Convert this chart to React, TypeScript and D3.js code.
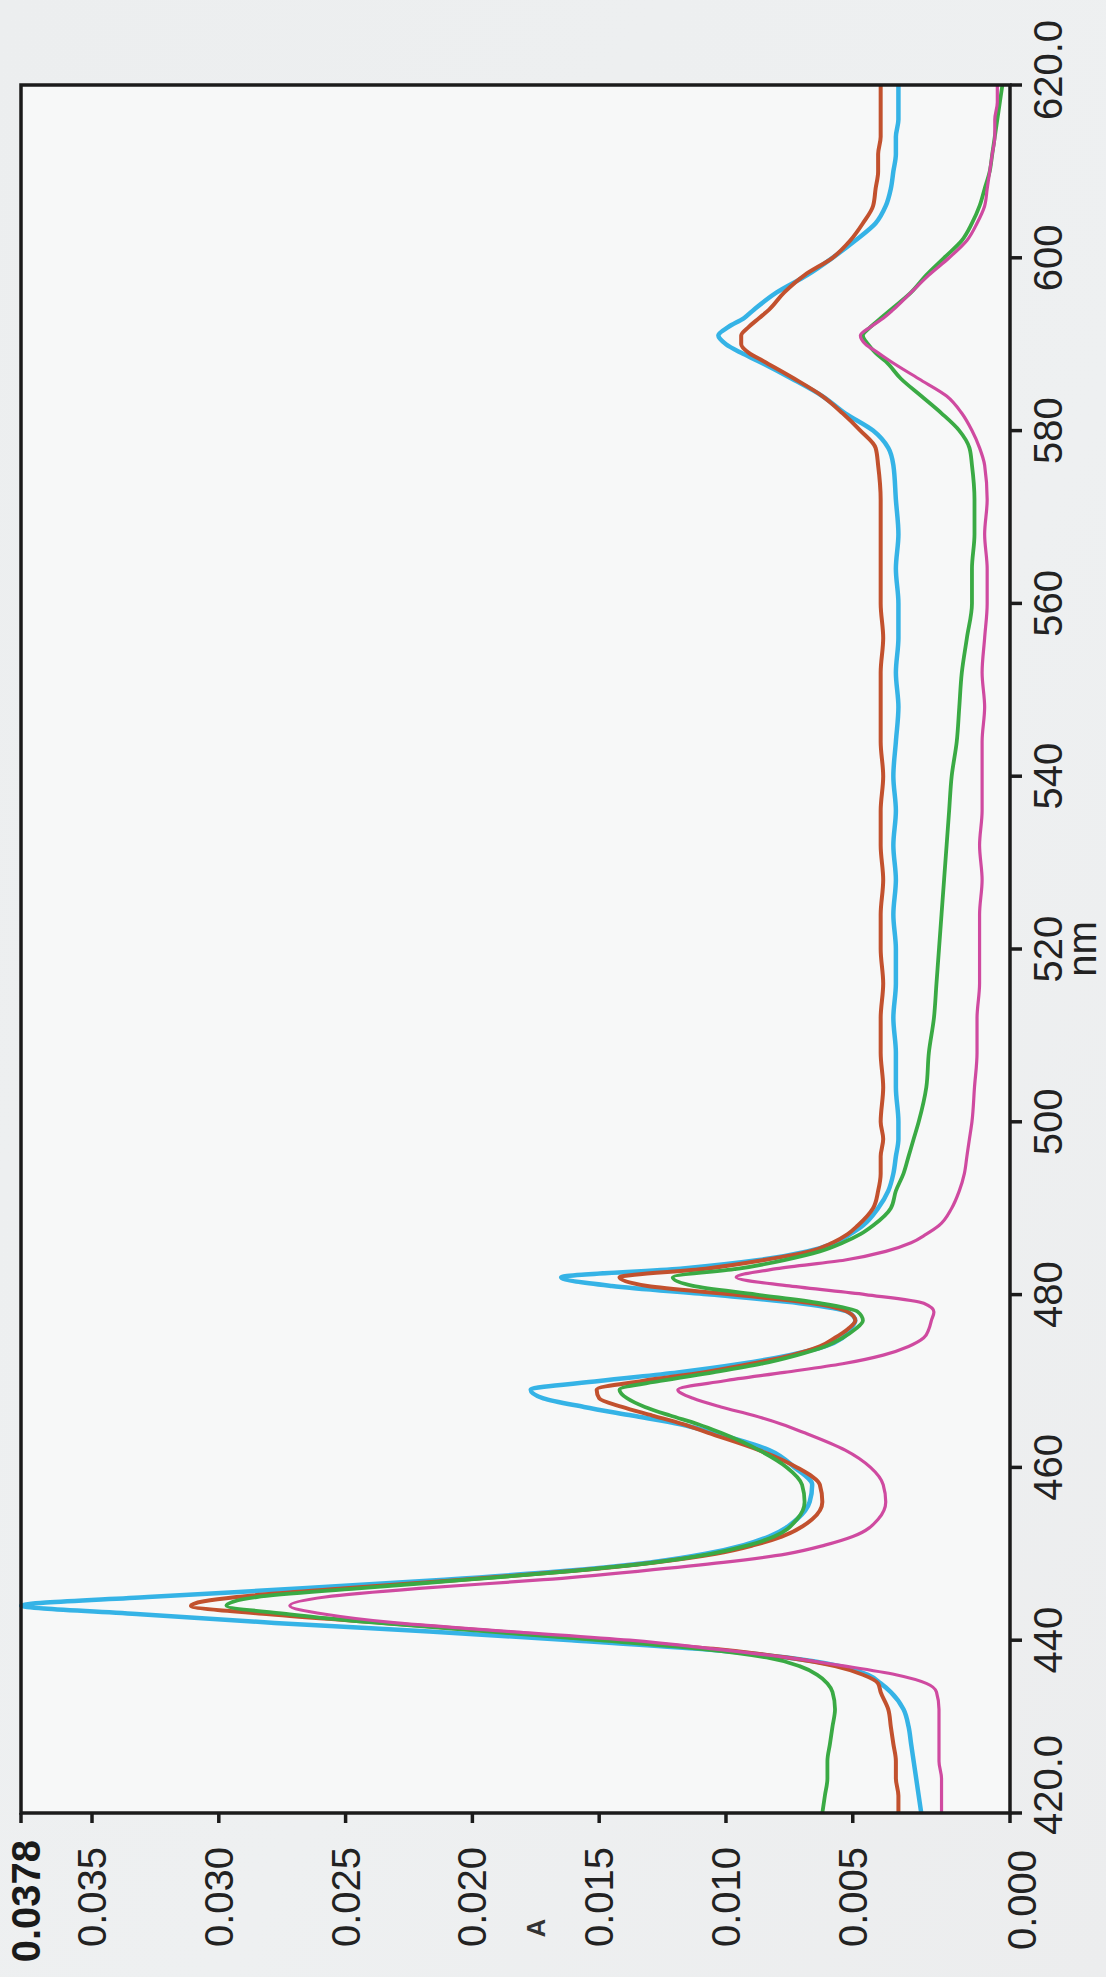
import React from 'react';
import * as d3 from 'd3';

// Wavelength grid (nm) shared by all four spectra
const WAVELENGTHS = [
  420, 422, 424, 426, 428, 430, 432, 434,
  435, 436, 437, 438, 439, 440, 441, 442, 443, 444, 445, 446, 447, 448, 449, 450, 451, 452,
  454, 456, 458, 460, 462, 464,
  465, 466, 467, 468, 469, 470, 471, 472, 473, 474, 475, 476, 477, 478, 479, 480, 481, 482, 483, 484, 485, 486, 487, 488,
  490, 492, 494, 496, 498, 500,
  504, 508, 512, 516, 520, 524, 528, 532, 536, 540, 544, 548, 552, 556, 560, 564, 568, 572, 576,
  578, 580, 582, 584, 586, 588,
  589, 590, 591, 592, 593, 594,
  596, 598, 600, 602, 604, 606, 608, 610, 612, 614, 616, 618, 620,
];

// Absorbance values (A), one per wavelength
const BLUE = [
  0.0023, 0.0024, 0.0025, 0.0026, 0.0027, 0.0028, 0.0030, 0.0035,
  0.0039, 0.0044, 0.0055, 0.0076, 0.0111, 0.0161, 0.0217, 0.0278, 0.0331, 0.0378, 0.0328, 0.0267, 0.0211, 0.0164, 0.0130, 0.0108, 0.0093, 0.0083,
  0.0072, 0.0067, 0.0066, 0.0073, 0.0083, 0.0105,
  0.0118, 0.0137, 0.0156, 0.0172, 0.0177, 0.0150, 0.0119, 0.0094, 0.0075, 0.0061, 0.0054, 0.0051, 0.0049, 0.0052, 0.0071, 0.0106, 0.0145, 0.0165, 0.0118, 0.0087, 0.0068, 0.0057, 0.0051, 0.0046,
  0.0040, 0.0036, 0.0034, 0.0033, 0.0032, 0.0032,
  0.0033, 0.0033, 0.0034, 0.0033, 0.0033, 0.0034, 0.0033, 0.0034, 0.0033, 0.0034, 0.0033, 0.0032, 0.0033, 0.0032, 0.0032, 0.0033, 0.0032, 0.0033, 0.0034,
  0.0036, 0.0042, 0.0053, 0.0062, 0.0074, 0.0087,
  0.0094, 0.0100, 0.0103, 0.0099, 0.0093, 0.0089,
  0.0080, 0.0068, 0.0058, 0.0049, 0.0041, 0.0037, 0.0035, 0.0034, 0.0033, 0.0033, 0.0032, 0.0032, 0.0032,
];

const BROWN = [
  0.0032, 0.0032, 0.0033, 0.0033, 0.0034, 0.0035, 0.0036, 0.0039,
  0.0040, 0.0046, 0.0057, 0.0076, 0.0105, 0.0146, 0.0190, 0.0235, 0.0280, 0.0311, 0.0293, 0.0250, 0.0204, 0.0161, 0.0128, 0.0104, 0.0089, 0.0078,
  0.0066, 0.0062, 0.0063, 0.0072, 0.0087, 0.0107,
  0.0117, 0.0129, 0.0141, 0.0150, 0.0151, 0.0133, 0.0109, 0.0090, 0.0074, 0.0063, 0.0057, 0.0052, 0.0049, 0.0052, 0.0066, 0.0097, 0.0131, 0.0142, 0.0108, 0.0085, 0.0067, 0.0058, 0.0052, 0.0048,
  0.0042, 0.0040, 0.0039, 0.0039, 0.0038, 0.0039,
  0.0038, 0.0039, 0.0039, 0.0038, 0.0039, 0.0039, 0.0038, 0.0039, 0.0039, 0.0038, 0.0039, 0.0039, 0.0039, 0.0038, 0.0039, 0.0039, 0.0039, 0.0039, 0.0040,
  0.0041, 0.0047, 0.0054, 0.0062, 0.0073, 0.0085,
  0.0091, 0.0094, 0.0094, 0.0091, 0.0087, 0.0083,
  0.0077, 0.0069, 0.0058, 0.0051, 0.0046, 0.0042, 0.0041, 0.0040, 0.0040, 0.0039, 0.0039, 0.0039, 0.0039,
];

const GREEN = [
  0.0062, 0.0061, 0.0060, 0.0060, 0.0059, 0.0058, 0.0057, 0.0058,
  0.0060, 0.0064, 0.0071, 0.0084, 0.0110, 0.0150, 0.0193, 0.0237, 0.0272, 0.0297, 0.0285, 0.0245, 0.0202, 0.0161, 0.0128, 0.0106, 0.0091, 0.0081,
  0.0072, 0.0069, 0.0070, 0.0076, 0.0087, 0.0102,
  0.0111, 0.0122, 0.0132, 0.0139, 0.0142, 0.0126, 0.0105, 0.0086, 0.0072, 0.0061, 0.0054, 0.0049, 0.0046, 0.0048, 0.0063, 0.0088, 0.0113, 0.0121, 0.0095, 0.0077, 0.0063, 0.0054, 0.0047, 0.0042,
  0.0035, 0.0033, 0.0030, 0.0028, 0.0026, 0.0024,
  0.0021, 0.0020, 0.0018, 0.0017, 0.0016, 0.0015, 0.0014, 0.0013, 0.0012, 0.0011, 0.0009, 0.0008, 0.0007, 0.0005, 0.0003, 0.0003, 0.0002, 0.0002, 0.0003,
  0.0004, 0.0008, 0.0015, 0.0023, 0.0031, 0.0037,
  0.0041, 0.0044, 0.0046, 0.0043, 0.0039, 0.0035,
  0.0027, 0.0021, 0.0014, 0.0007, 0.0003, 0.0000, -0.0002, -0.0004, -0.0005, -0.0006, -0.0007, -0.0008, -0.0009,
];

const PINK = [
  0.0015, 0.0015, 0.0015, 0.0016, 0.0016, 0.0016, 0.0016, 0.0017,
  0.0021, 0.0033, 0.0053, 0.0076, 0.0105, 0.0138, 0.0185, 0.0230, 0.0258, 0.0272, 0.0258, 0.0221, 0.0172, 0.0134, 0.0101, 0.0076, 0.0061, 0.0050,
  0.0040, 0.0037, 0.0038, 0.0043, 0.0053, 0.0069,
  0.0078, 0.0089, 0.0102, 0.0113, 0.0119, 0.0101, 0.0077, 0.0054, 0.0038, 0.0028, 0.0022, 0.0020, 0.0019, 0.0018, 0.0022, 0.0045, 0.0075, 0.0096, 0.0080, 0.0053, 0.0037, 0.0027, 0.0021, 0.0016,
  0.0011, 0.0008, 0.0006, 0.0005, 0.0004, 0.0003,
  0.0002, 0.0001, 0.0001, 0.0000, 0.0000, 0.0000, -0.0001, 0.0000, -0.0001, -0.0001, -0.0001, -0.0002, -0.0001, -0.0002, -0.0003, -0.0003, -0.0002, -0.0003, -0.0002,
  0.0000, 0.0003, 0.0007, 0.0013, 0.0024, 0.0035,
  0.0040, 0.0045, 0.0047, 0.0043, 0.0038, 0.0034,
  0.0027, 0.0020, 0.0012, 0.0005, 0.0001, -0.0002, -0.0003, -0.0004, -0.0005, -0.0006, -0.0006, -0.0007, -0.0007,
];

const SERIES = [
  { name: 'blue', values: BLUE, color: '#35b3e6', width: 4.5 },
  { name: 'brown', values: BROWN, color: '#c2512e', width: 4 },
  { name: 'green', values: GREEN, color: '#3aaa44', width: 3.8 },
  { name: 'pink', values: PINK, color: '#cf4aa0', width: 3.2 },
];

// Axis extents and tick labels
const NM_DOMAIN = [420, 620];
const A_DOMAIN = [-0.0012, 0.0378];
const A_TICKS = [0.005, 0.01, 0.015, 0.02, 0.025, 0.03, 0.035];
const NM_TICKS = [440, 460, 480, 500, 520, 540, 560, 580, 600];
const A_MAX_LABEL = '0.0378';
const A_MIN_LABEL = '0.000';
const NM_MIN_LABEL = '420.0';
const NM_MAX_LABEL = '620.0';
const X_TITLE = 'nm';
const Y_TITLE = 'A';

const PAGE_W = 1106;
const PAGE_H = 1977;
const FONT = '"Liberation Sans", Arial, Helvetica, sans-serif';

export default function App() {
  // The chart is built in an upright frame (PAGE_H wide, PAGE_W tall)
  // and then turned a quarter-turn counter-clockwise onto the page.
  const left = 164;
  const right = 1892;
  const top = 21;
  const bottom = 1010;

  const x = d3.scaleLinear().domain(NM_DOMAIN).range([left, right]);
  const y = d3.scaleLinear().domain(A_DOMAIN).range([bottom, top]);

  const line = d3
    .line<number>()
    .x((_, i) => x(WAVELENGTHS[i]))
    .y((d) => y(d))
    .curve(d3.curveMonotoneX);

  const axisColor = '#1b1b1b';
  const tickLen = 10;
  const labelSize = 40;

  const aTickAll = [A_DOMAIN[1], ...A_TICKS, A_DOMAIN[0]];
  const nmTickAll = [NM_DOMAIN[0], ...NM_TICKS, NM_DOMAIN[1]];

  return (
    <svg
      width={PAGE_W}
      height={PAGE_H}
      viewBox={`0 0 ${PAGE_W} ${PAGE_H}`}
      style={{ position: 'absolute', left: 0, top: 0, display: 'block' }}
    >
      <defs>
        <clipPath id="plot-clip">
          <rect x={left} y={top - 2} width={right - left} height={bottom - top + 2} />
        </clipPath>
        <linearGradient id="paper" x1="0" y1="0" x2="1" y2="1">
          <stop offset="0" stopColor="#eceeef" />
          <stop offset="0.6" stopColor="#eef0f1" />
          <stop offset="1" stopColor="#ecedee" />
        </linearGradient>
      </defs>
      <rect x={0} y={0} width={PAGE_W} height={PAGE_H} fill="url(#paper)" />

      <g transform={`translate(0,${PAGE_H}) rotate(-90)`}>
        {/* plot area */}
        <rect x={left} y={top} width={right - left} height={bottom - top} fill="#f7f8f8" />

        {/* spectra */}
        <g clipPath="url(#plot-clip)">
          {SERIES.map((s) => (
            <path
              key={s.name}
              d={line(s.values) || ''}
              fill="none"
              stroke={s.color}
              strokeWidth={s.width}
              strokeLinejoin="round"
              strokeLinecap="round"
            />
          ))}
        </g>

        {/* frame */}
        <rect
          x={left}
          y={top}
          width={right - left}
          height={bottom - top}
          fill="none"
          stroke={axisColor}
          strokeWidth={3.5}
        />

        {/* absorbance axis ticks */}
        {aTickAll.map((t, i) => (
          <line
            key={`at${i}`}
            x1={left - tickLen}
            x2={left}
            y1={y(t)}
            y2={y(t)}
            stroke={axisColor}
            strokeWidth={3.5}
          />
        ))}
        {/* wavelength axis ticks */}
        {nmTickAll.map((t, i) => (
          <line
            key={`nt${i}`}
            x1={x(t)}
            x2={x(t)}
            y1={bottom}
            y2={bottom + tickLen + 2}
            stroke={axisColor}
            strokeWidth={3.5}
          />
        ))}

        {/* absorbance tick labels */}
        {A_TICKS.map((t, i) => (
          <text
            key={`al${i}`}
            x={left - 34}
            y={y(t)}
            textAnchor="end"
            dominantBaseline="central"
            fontFamily={FONT}
            fontSize={labelSize}
            fill="#222"
          >
            {d3.format('.3f')(t)}
          </text>
        ))}
        <text
          x={left - 27}
          y={y(A_DOMAIN[1]) + 5}
          textAnchor="end"
          dominantBaseline="central"
          fontFamily={FONT}
          fontSize={labelSize}
          fontWeight="bold"
          fill="#1a1a1a"
        >
          {A_MAX_LABEL}
        </text>
        <text
          x={left - 37}
          y={y(A_DOMAIN[0]) + 12}
          textAnchor="end"
          dominantBaseline="central"
          fontFamily={FONT}
          fontSize={labelSize}
          fill="#222"
        >
          {A_MIN_LABEL}
        </text>
        <text
          x={49}
          y={(top + bottom) / 2 + 20}
          textAnchor="middle"
          dominantBaseline="central"
          fontFamily={FONT}
          fontSize={26}
          fontWeight="bold"
          fill="#333"
        >
          {Y_TITLE}
        </text>

        {/* wavelength tick labels */}
        {NM_TICKS.map((t, i) => (
          <text
            key={`nl${i}`}
            x={x(t)}
            y={bottom + 52}
            textAnchor="middle"
            fontFamily={FONT}
            fontSize={labelSize}
            fill="#222"
          >
            {t}
          </text>
        ))}
        <text
          x={x(NM_DOMAIN[0]) - 22}
          y={bottom + 52}
          textAnchor="start"
          fontFamily={FONT}
          fontSize={labelSize}
          fill="#222"
        >
          {NM_MIN_LABEL}
        </text>
        <text
          x={x(NM_DOMAIN[1]) - 35}
          y={bottom + 52}
          textAnchor="start"
          fontFamily={FONT}
          fontSize={labelSize}
          fill="#222"
        >
          {NM_MAX_LABEL}
        </text>
        <text
          x={x((NM_DOMAIN[0] + NM_DOMAIN[1]) / 2)}
          y={bottom + 86}
          textAnchor="middle"
          fontFamily={FONT}
          fontSize={labelSize}
          fill="#222"
        >
          {X_TITLE}
        </text>
      </g>
    </svg>
  );
}
